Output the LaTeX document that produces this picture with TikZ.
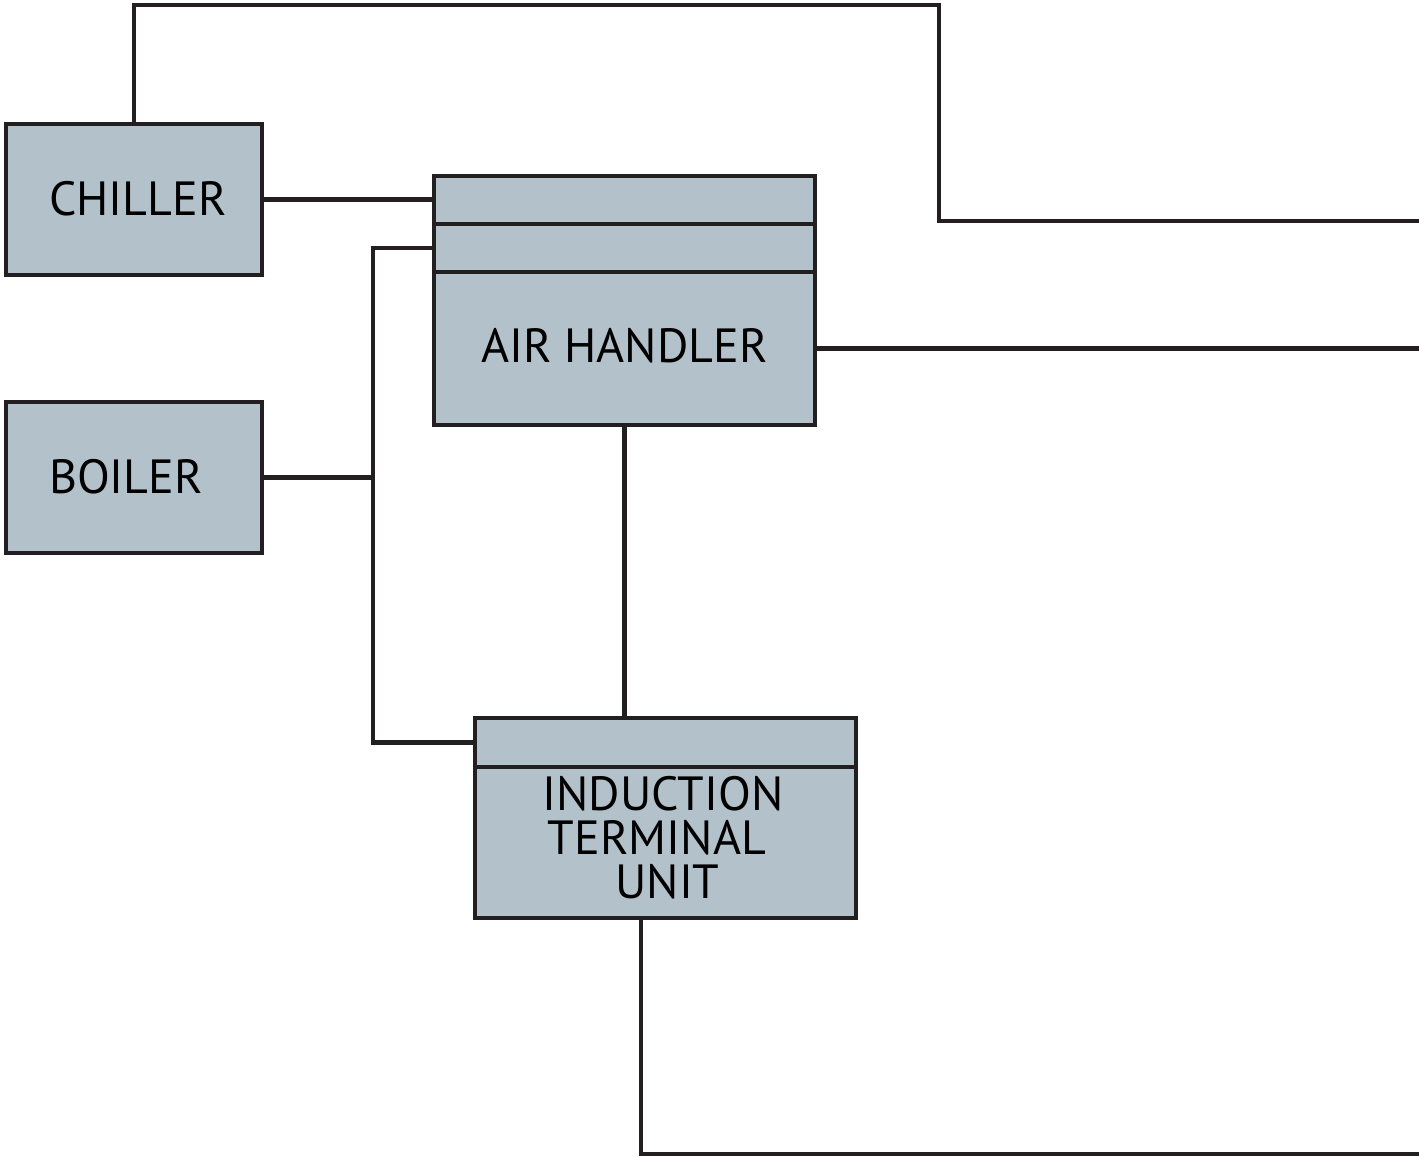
\documentclass[tikz,border=0pt]{standalone}
\usepackage{fontspec}
\setmainfont{PT Sans}
\definecolor{boxfill}{HTML}{B3C1CA}
\definecolor{ink}{HTML}{231F20}
\begin{document}
\begin{tikzpicture}[x=1pt,y=-1pt,
  unit/.style={draw=ink,fill=boxfill,line width=4.5pt,rectangle,inner sep=0pt},
  lbl/.style={anchor=base,inner sep=0pt,text height=34pt,text depth=0pt,font=\fontsize{48}{43}\selectfont},
  pipe/.style={draw=ink,line width=4.5pt}]
\useasboundingbox (0,0) rectangle (1419,1157);
\node[unit,minimum width=256pt,minimum height=151pt] (chiller) at (134,199.5) {};
\node[unit,minimum width=256pt,minimum height=151pt] (boiler) at (134,477.5) {};
\node[unit,minimum width=381pt,minimum height=48pt] (ah1) at (624.5,200) {};
\node[unit,minimum width=381pt,minimum height=48pt] (ah2) at (624.5,248) {};
\node[unit,minimum width=381pt,minimum height=153pt] (ah3) at (624.5,348.5) {};
\node[unit,minimum width=381pt,minimum height=49pt] (itu1) at (665.5,742.5) {};
\node[unit,minimum width=381pt,minimum height=151pt] (itu2) at (665.5,842.5) {};
\node[lbl] (chillertext) at (138,215) {CHILLER};
\node[lbl] (boilertext) at (126,493) {BOILER};
\node[lbl] (ahtext) at (624.5,362) {AIR HANDLER};
\node[lbl] (itutext1) at (663,810) {INDUCTION};
\node[lbl] (itutext2) at (657,854) {TERMINAL};
\node[lbl] (itutext3) at (667.5,898) {UNIT};
\coordinate (c2) at (939,5);
\coordinate (c3) at (939,221);
\coordinate (e1) at (1419,221);
\coordinate (e2) at (1419,348.5);
\coordinate (riser) at (373,248);
\coordinate (e3) at (1419,1154);
\draw[pipe] (chiller.north) |- (c2) -- (c3) -- (e1);
\draw[pipe] (chiller.east) -- (chiller.east -| ah1.west);
\draw[pipe] (ah2.west) -- (riser) |- (itu1.west);
\draw[pipe] (boiler.east) -- (boiler.east -| riser);
\draw[pipe] (ah3.east) -- (e2);
\draw[pipe] (ah3.south) -- (ah3.south |- itu1.north);
\draw[pipe] (itu2.south -| 641,0) |- (e3);
\end{tikzpicture}
\end{document}
